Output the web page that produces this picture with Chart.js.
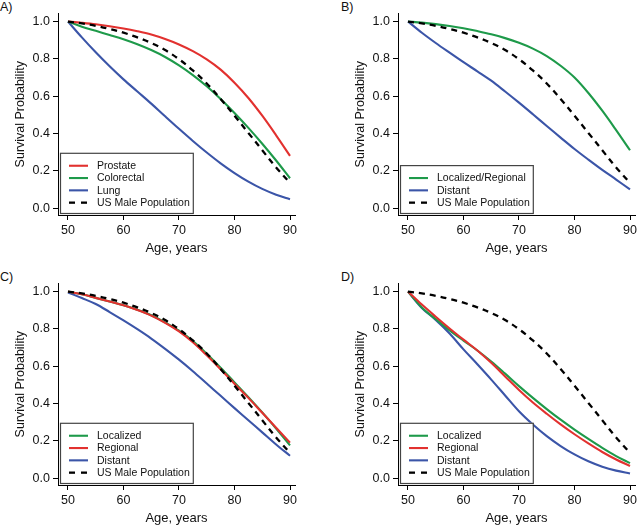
<!DOCTYPE html>
<html>
<head>
<meta charset="utf-8">
<script src="https://cdn.jsdelivr.net/npm/chart.js@4"></script>
<style>
  html, body { margin:0; padding:0; background:#fff; width:640px; height:525px; overflow:hidden; }
  #wrap { position:relative; width:640px; height:525px; }
  canvas { position:absolute; }
  .tag { position:absolute; font:12.5px "Liberation Sans", Arial, sans-serif; color:#111; }
</style>
</head>
<body>
<div id="wrap">
  <div class="tag" style="left:0;top:0">A)</div>
  <div class="tag" style="left:341px;top:0">B)</div>
  <div class="tag" style="left:0;top:270px">C)</div>
  <div class="tag" style="left:341px;top:270px">D)</div>
  <canvas id="panelA" width="320" height="258" style="left:0;top:3px"></canvas>
  <canvas id="panelB" width="320" height="258" style="left:340px;top:3px"></canvas>
  <canvas id="panelC" width="320" height="258" style="left:0;top:273px"></canvas>
  <canvas id="panelD" width="320" height="258" style="left:340px;top:273px"></canvas>
</div>
<script>
// ages every 2.5 years, 50 -> 90
const ages = [50, 52.5, 55, 57.5, 60, 62.5, 65, 67.5, 70, 72.5, 75, 77.5, 80, 82.5, 85, 87.5, 90];
const xTicks = [50, 60, 70, 80, 90];
const yTicks = [0, 0.2, 0.4, 0.6, 0.8, 1.0];

const usMale = [1.0, 0.99, 0.977, 0.96, 0.94, 0.915, 0.885, 0.847, 0.798, 0.738, 0.668, 0.585, 0.495, 0.403, 0.31, 0.218, 0.135];

// A) by cancer site
const aProstate   = [1.0, 0.993, 0.985, 0.975, 0.963, 0.948, 0.93, 0.906, 0.877, 0.841, 0.797, 0.742, 0.672, 0.59, 0.495, 0.39, 0.28];
const aColorectal = [1.0, 0.972, 0.95, 0.928, 0.905, 0.878, 0.847, 0.81, 0.765, 0.713, 0.653, 0.585, 0.51, 0.43, 0.345, 0.255, 0.16];
const aLung       = [1.0, 0.915, 0.835, 0.76, 0.69, 0.625, 0.56, 0.492, 0.425, 0.36, 0.298, 0.24, 0.188, 0.142, 0.103, 0.072, 0.048];

// B) prostate by stage
const bLocReg  = [1.0, 0.994, 0.986, 0.976, 0.964, 0.949, 0.932, 0.911, 0.886, 0.855, 0.815, 0.763, 0.70, 0.617, 0.522, 0.418, 0.31];
const bDistant = [1.0, 0.94, 0.885, 0.833, 0.782, 0.733, 0.683, 0.625, 0.565, 0.503, 0.44, 0.378, 0.317, 0.26, 0.205, 0.153, 0.10];

// C) colorectal by stage
const cLocalized = [1.0, 0.985, 0.966, 0.946, 0.926, 0.902, 0.873, 0.835, 0.79, 0.735, 0.667, 0.592, 0.513, 0.434, 0.352, 0.265, 0.175];
const cRegional  = [1.0, 0.985, 0.966, 0.946, 0.926, 0.901, 0.871, 0.832, 0.786, 0.728, 0.658, 0.583, 0.506, 0.43, 0.35, 0.27, 0.19];
const cDistant   = [0.995, 0.965, 0.933, 0.89, 0.845, 0.798, 0.748, 0.693, 0.635, 0.573, 0.507, 0.441, 0.375, 0.31, 0.245, 0.18, 0.12];

// D) lung by stage
const dLocalized = [1.0, 0.915, 0.852, 0.792, 0.737, 0.684, 0.625, 0.56, 0.493, 0.43, 0.37, 0.313, 0.26, 0.21, 0.162, 0.118, 0.08];
const dRegional  = [1.0, 0.93, 0.865, 0.802, 0.742, 0.684, 0.618, 0.545, 0.472, 0.405, 0.345, 0.288, 0.235, 0.186, 0.14, 0.10, 0.065];
const dDistant   = [1.0, 0.912, 0.848, 0.775, 0.69, 0.61, 0.528, 0.443, 0.358, 0.287, 0.225, 0.172, 0.127, 0.09, 0.061, 0.04, 0.025];

const RED = '#e2312f', GREEN = '#1e9a4a', BLUE = '#3b55a8', BLACK = '#000';
const FONT = '"Liberation Sans", Arial, sans-serif';

function pts(arr){ return ages.map((a,i)=>({x:a, y:arr[i]})); }

function series(label, arr, color, order, dashed){
  return {
    label, data: pts(arr), borderColor: color, backgroundColor: color,
    borderWidth: dashed ? 2.3 : 2.1, borderDash: dashed ? [6,5] : [],
    pointRadius: 0, tension: 0.35, fill: false, order
  };
}

// legend box drawn inside the plot, bottom-left
const boxLegend = {
  id: 'boxLegend',
  afterDatasetsDraw(chart){
    const ctx = chart.ctx, area = chart.chartArea;
    const items = chart.data.datasets;
    ctx.save();
    ctx.font = '10.5px ' + FONT;
    const textW = Math.max(...items.map(d => ctx.measureText(d.label).width));
    const rowH = 12.3;
    const w = 37 + textW + 3, h = items.length*rowH + 11;
    const x0 = area.left + 2, y0 = area.bottom - 2 - h;
    ctx.fillStyle = '#fff';
    ctx.fillRect(x0, y0, w, h);
    ctx.strokeStyle = '#444'; ctx.lineWidth = 1.2;
    ctx.strokeRect(x0+0.5, y0+0.5, w, h);
    items.forEach((d,i)=>{
      const y = y0 + 6.8 + rowH*(i+0.5);
      ctx.beginPath();
      ctx.strokeStyle = d.borderColor;
      ctx.lineWidth = d.borderWidth;
      ctx.setLineDash(d.borderDash.length ? [6,6] : []);
      ctx.moveTo(x0+9, y); ctx.lineTo(x0+28, y);
      ctx.stroke();
      ctx.setLineDash([]);
      ctx.fillStyle = '#111';
      ctx.textBaseline = 'middle';
      ctx.fillText(d.label, x0+37, y+0.5);
    });
    ctx.restore();
  }
};

function makePanel(id, datasets){
  new Chart(document.getElementById(id), {
    type: 'line',
    data: { datasets },
    plugins: [boxLegend],
    options: {
      responsive: false, animation: false, devicePixelRatio: 1,
      layout: { padding: { left:13, top:10, right:25, bottom:5 } },
      plugins: { legend:{display:false}, tooltip:{enabled:false} },
      scales: {
        x: {
          type: 'linear', min: 48.2, max: 90.9,
          afterFit: s => { s.height = 41; },
          afterBuildTicks: s => { s.ticks = xTicks.map(v=>({value:v})); },
          grid: { display:true, drawOnChartArea:false, drawTicks:true, tickLength:5, color:BLACK },
          border: { display:true, color:BLACK, width:1 },
          ticks: { color:'#111', font:{family:FONT, size:12.5}, padding:3, maxRotation:0 },
          title: { display:true, text:'Age, years', color:'#111', font:{family:FONT, size:13}, padding:0 }
        },
        y: {
          min: -0.037, max: 1.043,
          afterFit: s => { s.width = 45; },
          afterBuildTicks: s => { s.ticks = yTicks.map(v=>({value:v})); },
          grid: { display:true, drawOnChartArea:false, drawTicks:true, tickLength:5, color:BLACK },
          border: { display:true, color:BLACK, width:1 },
          ticks: { color:'#111', font:{family:FONT, size:12.5}, padding:3, callback: v => v.toFixed(1) },
          title: { display:true, text:'Survival Probability', color:'#111', font:{family:FONT, size:12.5}, padding:0 }
        }
      }
    }
  });
}

makePanel('panelA', [
  series('Prostate', aProstate, RED, 1),
  series('Colorectal', aColorectal, GREEN, 2),
  series('Lung', aLung, BLUE, 3),
  series('US Male Population', usMale, BLACK, 0, true)
]);
makePanel('panelB', [
  series('Localized/Regional', bLocReg, GREEN, 1),
  series('Distant', bDistant, BLUE, 2),
  series('US Male Population', usMale, BLACK, 0, true)
]);
makePanel('panelC', [
  series('Localized', cLocalized, GREEN, 2),
  series('Regional', cRegional, RED, 1),
  series('Distant', cDistant, BLUE, 3),
  series('US Male Population', usMale, BLACK, 0, true)
]);
makePanel('panelD', [
  series('Localized', dLocalized, GREEN, 2),
  series('Regional', dRegional, RED, 1),
  series('Distant', dDistant, BLUE, 3),
  series('US Male Population', usMale, BLACK, 0, true)
]);
</script>
</body>
</html>
